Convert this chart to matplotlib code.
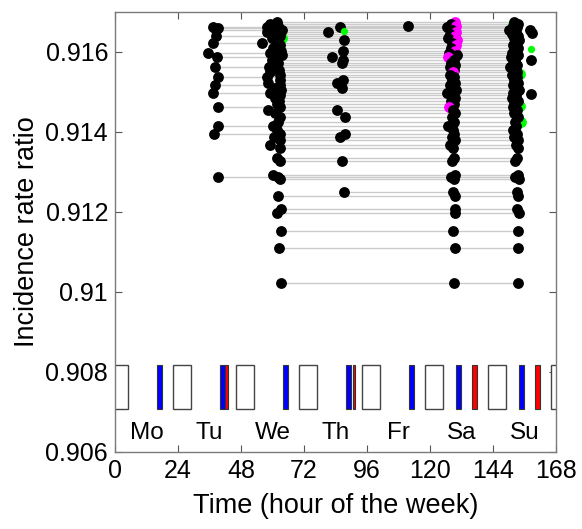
import numpy as np
import matplotlib
matplotlib.use("Agg")
import matplotlib.pyplot as plt
from matplotlib.patches import Rectangle

plt.rcParams['font.family'] = ['Liberation Sans', 'DejaVu Sans']

nan = np.nan
# incidence rate ratio of each peak-set (one row = one line)
irr = [0.91675, 0.9167, 0.91665, 0.916625, 0.9166, 0.91655, 0.9165, 0.91645, 0.9164, 0.91635,
       0.9163, 0.916225, 0.916175, 0.9161, 0.916025, 0.915975, 0.915925, 0.915875, 0.9158, 0.915725,
       0.915675, 0.915625, 0.91555, 0.9155, 0.915425, 0.915375, 0.9153, 0.915225, 0.915175, 0.9151,
       0.91505, 0.914975, 0.914925, 0.91485, 0.914775, 0.9147, 0.914625, 0.91455, 0.914475, 0.914375,
       0.91425, 0.91415, 0.91405, 0.91395, 0.913875, 0.9138, 0.913675, 0.9136, 0.91335, 0.913275,
       0.912925, 0.912875, 0.912825, 0.9125, 0.9124, 0.912075, 0.911975, 0.911525, 0.9111, 0.910225]
# peak hour in each day-cluster (nan = no peak)
peak_tu = [nan, nan, nan, 37.3, 39.2, 38.5, nan, nan, 38.5, nan,
           nan, 37.3, nan, nan, nan, 35.4, nan, 38.9, nan, nan,
           nan, 38.1, nan, nan, nan, 39.2, nan, nan, 38.1, nan,
           nan, 37.3, nan, nan, nan, nan, 39.2, nan, nan, nan,
           nan, 39.2, nan, 37.7, nan, nan, nan, nan, nan, nan,
           nan, 39.2, nan, nan, nan, nan, nan, nan, nan, nan]
peak_we = [61.7, 59.0, 62.1, 57.9, 60.2, 63.6, 57.9, 60.2, 62.9, 59.8,
           61.7, 56.0, 62.9, 60.2, 63.2, 59.0, 63.6, 61.0, 59.8, 62.1,
           61.0, 58.6, 62.5, 59.0, 62.9, 57.9, 62.9, 58.3, 62.9, 61.0,
           63.2, 59.0, 62.9, 61.0, 62.5, 61.7, 62.9, 58.3, 61.0, 62.9,
           62.1, 60.2, 61.7, 62.9, 60.6, 62.9, 59.0, 62.9, 61.7, 62.9,
           60.2, 62.1, 62.9, nan, 62.1, 63.2, 61.7, 63.2, 62.5, 63.2]
peak_th = [nan, nan, nan, 85.7, nan, nan, 81.1, nan, nan, nan,
           87.2, nan, nan, nan, 86.9, nan, nan, 82.7, 86.9, 86.5,
           nan, nan, nan, nan, nan, nan, 86.9, 84.6, nan, 86.5,
           nan, nan, nan, nan, nan, nan, nan, 84.6, nan, 87.6,
           nan, nan, nan, 87.6, 85.7, nan, nan, nan, nan, 86.3,
           nan, nan, nan, 87.2, nan, nan, nan, nan, nan, nan]
peak_fr = [nan, nan, 111.6] + [nan] * 57
peak_sa = [129.5, 128.0, 129.9, 126.5, 129.5, 128.4, 129.9, 127.6, 129.5, 126.9,
           130.3, 128.4, 129.9, 128.0, 129.5, 127.2, 130.3, 126.9, 129.1, 128.0,
           129.5, 127.6, 129.1, 128.8, 127.6, 129.1, 128.4, 129.5, 127.6, 128.8,
           129.9, 126.5, 128.8, 129.5, 128.0, 129.1, 127.2, 128.8, 129.5, 128.4,
           129.1, 126.9, 128.8, 129.1, 128.4, 129.5, 127.6, 128.8, 129.1, 128.4,
           129.5, 128.0, 129.1, 128.8, 129.5, 129.5, 129.5, 128.8, 129.5, 129.1]
peak_su = [152.0, 153.5, 151.6, 153.1, 152.4, 150.0, 152.8, 151.2, 153.5, 152.0,
           153.9, 152.4, 151.6, 153.5, 152.8, 151.2, 153.5, 150.8, 152.4, 151.6,
           153.1, 150.4, 152.4, 153.1, 151.2, 153.1, 152.0, 153.5, 151.6, 152.4,
           153.9, 151.6, 152.8, 151.2, 153.5, 152.0, 151.6, 153.1, 152.0, 153.5,
           152.4, 152.8, 151.6, 153.1, 152.0, 153.5, 152.8, 153.5, 153.1, 152.4,
           153.5, 152.4, 153.9, 153.1, 153.5, 153.1, 153.9, 153.5, 153.5, 153.5]
# Saturday peaks flagged (magenta)
sa_flag = [1, 0, 1, 0, 1, 0, 1, 0, 1, 0,
           1, 0, 1, 0, 1, 0, 0, 1, 0, 0,
           0, 0, 0, 1, 0, 0, 0, 0, 0, 0,
           0, 0, 0, 0, 0, 0, 1, 0, 0, 0] + [0] * 20

# isolated late-Sunday peaks
late_su_x = [158.1, 158.9, 158.5, 158.5]
late_su_y = [0.91655, 0.916475, 0.9158, 0.91495]
# green-flagged peaks (front)
green_x = [158.5, 87.2]
green_y = [0.916075, 0.91652]
# green-flagged peaks (partly hidden)
green_back_x = [63.6, 151.6, 152.4, 154.3, 154.3, 154.6]
green_back_y = [0.91635, 0.91667, 0.9158, 0.91545, 0.91465, 0.91425]

# bars at the bottom (hour of week)
night_start = [-2, 22, 46, 70, 94, 118, 142, 166]
night_len = 7
blue_start = [16, 40, 64, 88, 112, 130, 154]
blue_len = 2
red_start = [42, 90.5, 136, 160]
red_len = [1, 1, 2, 2]

days = ['Mo', 'Tu', 'We', 'Th', 'Fr', 'Sa', 'Su']
xticks = [0, 24, 48, 72, 96, 120, 144, 168]
yticks = [0.906, 0.908, 0.910, 0.912, 0.914, 0.916]
ytick_labels = ['0.906', '0.908', '0.91', '0.912', '0.914', '0.916']

fig = plt.figure(figsize=(5.82, 5.29), dpi=100)
ax = fig.add_axes([0.1976, 0.1456, 0.7577, 0.8318])

cols = [peak_tu, peak_we, peak_th, peak_fr, peak_sa, peak_su]
ms = 7.8
# gray connecting lines
for i, y in enumerate(irr):
    xs = [c[i] for c in cols if not np.isnan(c[i])]
    ax.plot([min(xs), max(xs)], [y, y], color='#cbcbcb', lw=1.0, zorder=1)

ax.plot(green_back_x, green_back_y, 'o', color='#00ff00', ms=ms, mec='none', zorder=2)

for i, y in enumerate(irr):
    for k, c in enumerate(cols):
        if np.isnan(c[i]):
            continue
        col = 'k'
        if k == 4 and sa_flag[i]:
            col = '#ff00ff'
        ax.plot(c[i], y, 'o', color=col, ms=ms, mec='none', zorder=3)

ax.plot(late_su_x, late_su_y, 'o', color='k', ms=ms, mec='none', zorder=3)
ax.plot(green_x, green_y, 'o', color='#00ff00', ms=5.2, mec='none', zorder=4)

ybot, yh = 0.90707, 0.00111
for s in night_start:
    ax.add_patch(Rectangle((s, ybot), night_len, yh, facecolor='white',
                           edgecolor='#444444', lw=1.0, zorder=2))
for s in blue_start:
    ax.add_patch(Rectangle((s, ybot), blue_len, yh, facecolor='#0000ff',
                           edgecolor='#333333', lw=0.8, zorder=2))
for s, w in zip(red_start, red_len):
    ax.add_patch(Rectangle((s, ybot), w, yh, facecolor='#ff0000',
                           edgecolor='#333333', lw=0.8, zorder=2))

for k, d in enumerate(days):
    ax.text(12 + 24 * k, 0.90648, d, ha='center', va='center', fontsize=17.5)

ax.set_xlim(0, 168)
ax.set_ylim(0.906, 0.917)
ax.set_xticks(xticks)
ax.set_xticklabels([str(t) for t in xticks])
ax.set_yticks(yticks)
ax.set_yticklabels(ytick_labels)
ax.tick_params(direction='in', top=True, right=True, length=5, width=0.8,
               color='#555555', labelsize=18, pad=5)
for sp in ax.spines.values():
    sp.set_color('#7a7a7a')
    sp.set_linewidth(1.0)
ax.set_xlabel('Time (hour of the week)', fontsize=19.5, labelpad=7)
ax.set_ylabel('Incidence rate ratio', fontsize=19.5, labelpad=4)

fig.savefig('out.png', dpi=100)
